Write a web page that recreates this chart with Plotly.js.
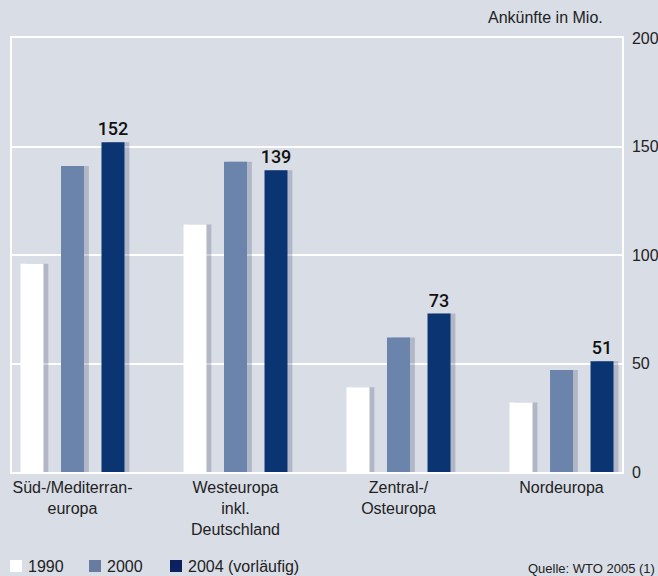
<!DOCTYPE html>
<html>
<head>
<meta charset="utf-8">
<script src="https://cdn.plot.ly/plotly-3.0.1.min.js"></script>
<style>
  html, body { margin: 0; padding: 0; background: #d9dde6; }
  #chart { width: 658px; height: 576px; }
</style>
</head>
<body>
<div id="chart"></div>
<script>
// regions and tick labels
var categories = ["Süd", "West", "Zentral", "Nord"];
var tickLabels = ["Süd-/Mediterran-<br>europa", "Westeuropa<br>inkl.<br>Deutschland", "Zentral-/<br>Osteuropa", "Nordeuropa"];

// arrivals in millions
var arrivals1990 = [96, 114, 39, 32];
var arrivals2000 = [141, 143, 62, 47];
var arrivals2004 = [152, 139, 73, 51];

var seriesNames = ["1990", "2000", "2004 (vorläufig)"];
var colors = ["#ffffff", "#6b84ab", "#0a3572"];
var legendColors = ["#ffffff", "#687ca2", "#0d2160"];

var barWidth = 0.141;
var offsets = [-0.319, -0.0705, 0.178];
var font = "Liberation Sans, Arial, sans-serif";

var allSeries = [arrivals1990, arrivals2000, arrivals2004];

// soft shadows to the right of each bar
var data = [];
allSeries.forEach(function (vals, i) {
    data.push({
        type: 'bar',
        x: categories,
        y: vals,
        width: barWidth,
        offset: offsets[i] + 0.03,
        marker: { color: 'rgba(60,72,105,0.25)', line: { width: 0 } },
        hoverinfo: 'skip',
        showlegend: false
    });
});

allSeries.forEach(function (vals, i) {
    var trace = {
        type: 'bar',
        name: seriesNames[i],
        x: categories,
        y: vals,
        width: barWidth,
        offset: offsets[i],
        marker: { color: colors[i], line: { width: 0 } },
        showlegend: false
    };
    if (i == 2) {
        trace.text = vals.map(String);
        trace.textposition = 'outside';
        trace.constraintext = 'none';
        trace.textfont = { family: 'Roboto, sans-serif', size: 18, color: '#111', weight: 500 };
        trace.cliponaxis = false;
    }
    data.push(trace);
});

// hand-made legend at the bottom
var legendX = [10, 89, 170];
var shapes = [];
var annotations = [];
seriesNames.forEach(function (name, i) {
    shapes.push({
        type: 'rect', xref: 'paper', yref: 'paper',
        x0: (legendX[i] - 12) / 610, x1: (legendX[i] + 12 - 12) / 610,
        y0: -(560 - 472) / 434 - 12 / 434, y1: -(560 - 472) / 434,
        fillcolor: legendColors[i], line: { width: 0 }
    });
    annotations.push({
        xref: 'paper', yref: 'paper',
        x: (legendX[i] + 16 - 12) / 610, y: -(566 - 472) / 434,
        xanchor: 'left', yanchor: 'middle',
        text: name, showarrow: false,
        font: { family: font, size: 16, color: '#222' }
    });
});

annotations.push({
    xref: 'paper', yref: 'paper',
    x: (605 - 12) / 610, y: 1 + (38 - 18) / 434,
    xanchor: 'right', yanchor: 'middle',
    text: 'Ankünfte in Mio.', showarrow: false,
    font: { family: font, size: 16, color: '#222' }
});
annotations.push({
    xref: 'paper', yref: 'paper',
    x: (657 - 12) / 610, y: -(568 - 472) / 434,
    xanchor: 'right', yanchor: 'middle',
    text: 'Quelle: WTO 2005 (1)', showarrow: false,
    font: { family: font, size: 13, color: '#222' }
});

var layout = {
    width: 658,
    height: 576,
    paper_bgcolor: '#d9dde6',
    plot_bgcolor: '#d9dde6',
    margin: { l: 12, r: 36, t: 38, b: 104 },
    barmode: 'overlay',
    showlegend: false,
    font: { family: font, size: 16, color: '#222' },
    xaxis: {
        type: 'category',
        range: [-0.371, 3.371],
        tickvals: categories,
        ticktext: tickLabels,
        showgrid: false,
        showline: true,
        mirror: true,
        linecolor: '#ffffff',
        linewidth: 1.5,
        ticks: '',
        tickfont: { family: font, size: 16, color: '#222' },
        fixedrange: true
    },
    yaxis: {
        side: 'right',
        range: [0, 200],
        tickvals: [0, 50, 100, 150, 200],
        showgrid: true,
        gridcolor: '#ffffff',
        gridwidth: 1.5,
        zeroline: false,
        showline: true,
        mirror: true,
        linecolor: '#ffffff',
        linewidth: 1.5,
        ticks: 'outside',
        ticklen: 5,
        tickcolor: 'rgba(0,0,0,0)',
        tickfont: { family: font, size: 16, color: '#222' },
        fixedrange: true
    },
    shapes: shapes,
    annotations: annotations
};

Plotly.newPlot('chart', data, layout, { displayModeBar: false });
</script>
</body>
</html>
